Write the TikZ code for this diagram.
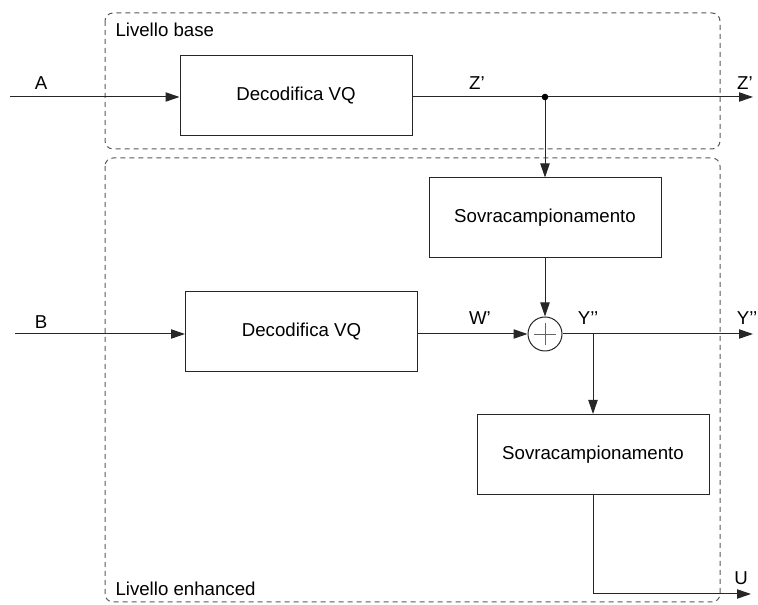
\documentclass[tikz,border=0pt]{standalone}
\usepackage{fontspec}
\setmainfont{Liberation Sans}
\usetikzlibrary{arrows.meta}
\begin{document}
\begin{tikzpicture}[x=0.75pt,y=-0.75pt,
  font=\fontsize{14}{16}\selectfont,
  line width=0.75pt,
  >={Triangle[length=10.5pt,width=7pt]},
  block/.style={draw=black!85, minimum width=174pt, minimum height=60pt, inner sep=0pt},
  layer/.style={draw=black!65, dash pattern=on 3.75pt off 3pt, rounded corners=6pt},
  wire/.style={draw=black!85},
  lbl/.style={inner sep=0pt}]
\useasboundingbox (0,0) rectangle (758,605);

% layer frames
\draw[layer] (105,13) rectangle (720,149);
\draw[layer] (105,158) rectangle (720,602);
\node[lbl, anchor=west] (lbase) at (115,30) {Livello base};
\node[lbl, anchor=west] (lenh) at (115,589) {Livello enhanced};

% blocks
\node[block] (dec1) at (296,95.5) {Decodifica VQ};
\node[block] (sov1) at (545,218) {Sovracampionamento};
\node[block] (dec2) at (301.5,332) {Decodifica VQ};
\node[draw=black!85, circle, minimum size=25.5pt, inner sep=0pt] (sum) at (545,334) {};
\node[block] (sov2) at (593,454.5) {Sovracampionamento};

% plus sign inside the adder
\draw[black!60, line width=0.6pt] (sum.center) ++(-11,0) -- ++(22,0);
\draw[black!60, line width=0.6pt] (sum.center) ++(0,-11) -- ++(0,22);

% connector end points
\coordinate (inA) at (10,97);
\coordinate (jZ) at (545,97);
\coordinate (outZ) at (753,97);
\coordinate (inB) at (15,334);
\coordinate (jY) at (593,334);
\coordinate (outY) at (753,334);
\coordinate (outU) at (751,594);

% connectors
\draw[wire,->] (inA) -- (inA -| dec1.west);
\draw[wire] (jZ -| dec1.east) -- (jZ);
\draw[wire,->] (jZ) -- (outZ);
\draw[wire,->] (jZ) -- (sov1.north);
\fill[black] (jZ) circle (3.3);
\draw[wire,->] (sov1.south) -- (sum.north);
\draw[wire,->] (inB) -- (inB -| dec2.west);
\draw[wire,->] (dec2.east |- sum) -- (sum.west);
\draw[wire,->] (sum.east) -- (outY);
\draw[wire,->] (jY) -- (sov2.north);
\draw[wire,->] (sov2.south) |- (outU);

% signal labels
\node[lbl] (lA) at (41,83) {A};
\node[lbl] (lB) at (41,322) {B};
\node[lbl] (lZ1) at (477,83) {Z’};
\node[lbl] (lZ2) at (745,83) {Z’};
\node[lbl] (lW) at (480,318) {W’};
\node[lbl] (lY1) at (588,318) {Y’’};
\node[lbl] (lY2) at (747,318) {Y’’};
\node[lbl] (lU) at (741,578) {U};
\end{tikzpicture}
\end{document}
